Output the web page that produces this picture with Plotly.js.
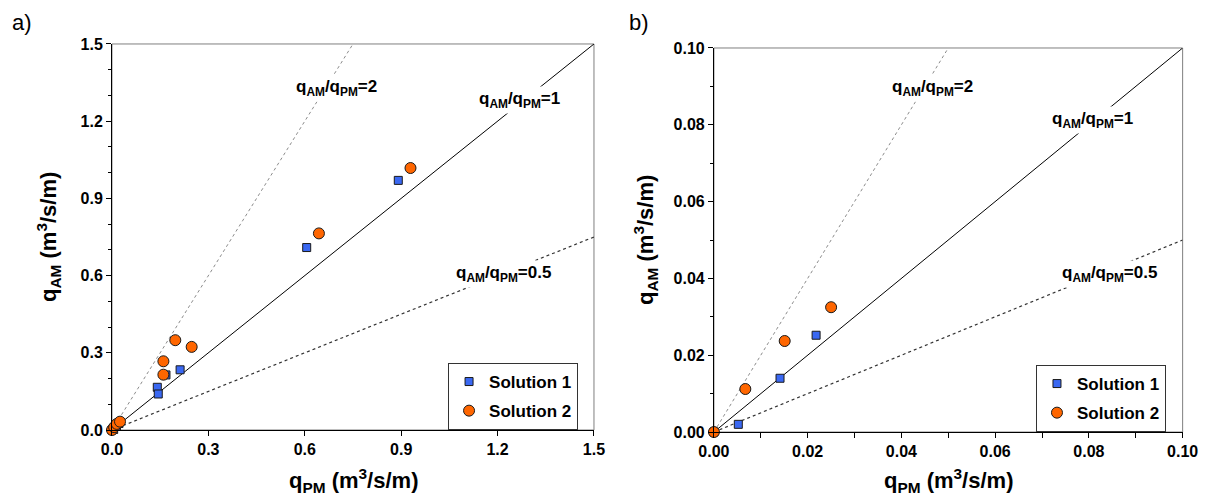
<!DOCTYPE html>
<html>
<head>
<meta charset="utf-8">
<script src="https://cdn.plot.ly/plotly-3.0.1.min.js"></script>
<style>html,body{margin:0;padding:0;background:#fff;}#chart{width:1208px;height:502px;}</style>
</head>
<body>
<div id="chart"></div>
<script>
// ---- data ----
const seriesNames = ['Solution 1', 'Solution 2'];
const sol1X = [0, 0.0052, 0.0141, 0.0218, 0.141, 0.144, 0.168, 0.212, 0.606, 0.891];
const sol1Y = [0, 0.0020, 0.0140, 0.0252, 0.166, 0.140, 0.214, 0.234, 0.709, 0.970];
const sol2X = [0, 0.0067, 0.0151, 0.0250, 0.160, 0.160, 0.197, 0.248, 0.644, 0.929];
const sol2Y = [0, 0.0112, 0.0237, 0.0325, 0.215, 0.267, 0.349, 0.323, 0.764, 1.018];
const ratios = [2, 1, 0.5];
const ratioLabels = ['q<sub>AM</sub>/q<sub>PM</sub>=2', 'q<sub>AM</sub>/q<sub>PM</sub>=1', 'q<sub>AM</sub>/q<sub>PM</sub>=0.5'];
const xTitle = 'q<sub>PM</sub> (m<sup>3</sup>/s/m)';
const yTitle = 'q<sub>AM</sub> (m<sup>3</sup>/s/m)';
const panelLabels = ['a)', 'b)'];
const rangeA = [0, 1.5];
const rangeB = [0, 0.1];

const FONT = 'Arial, "Liberation Sans", sans-serif';
const ratioStyles = [
  {color: '#8c8c8c', width: 1, dash: 'dot'},
  {color: '#000000', width: 1, dash: 'solid'},
  {color: '#333333', width: 1.2, dash: 'dot'}
];

function ratioLine(r, maxV, xa, ya) {
  const xEnd = Math.min(maxV, maxV / r);
  return {x: [0, xEnd], y: [0, xEnd * r], xaxis: xa, yaxis: ya, mode: 'lines',
    line: ratioStyles[ratios.indexOf(r)], showlegend: false, hoverinfo: 'skip', cliponaxis: true};
}

function filt(xs, ys, maxV) {
  const ox = [], oy = [];
  xs.forEach((v, i) => { if (v <= maxV && ys[i] <= maxV) { ox.push(v); oy.push(ys[i]); } });
  return [ox, oy];
}

const mk1 = {symbol: 'square', size: 8, color: '#3a68f2', line: {color: '#1a1a1a', width: 1}};
const mk2 = {symbol: 'circle', size: 11, color: '#ff6600', line: {color: '#1a1a1a', width: 1}};

const traces = [];
ratios.forEach(r => traces.push(ratioLine(r, rangeA[1], 'x', 'y')));
ratios.forEach(r => traces.push(ratioLine(r, rangeB[1], 'x2', 'y2')));

traces.push({x: sol1X, y: sol1Y, xaxis: 'x', yaxis: 'y', mode: 'markers', name: seriesNames[0],
  marker: mk1, cliponaxis: false, legend: 'legend', legendgroup: 'a1'});
traces.push({x: sol2X, y: sol2Y, xaxis: 'x', yaxis: 'y', mode: 'markers', name: seriesNames[1],
  marker: mk2, cliponaxis: false, legend: 'legend', legendgroup: 'a2'});
const b1 = filt(sol1X, sol1Y, rangeB[1]);
const b2 = filt(sol2X, sol2Y, rangeB[1]);
traces.push({x: b1[0], y: b1[1], xaxis: 'x2', yaxis: 'y2', mode: 'markers', name: seriesNames[0],
  marker: mk1, cliponaxis: false, legend: 'legend2', legendgroup: 'b1'});
traces.push({x: b2[0], y: b2[1], xaxis: 'x2', yaxis: 'y2', mode: 'markers', name: seriesNames[1],
  marker: mk2, cliponaxis: false, legend: 'legend2', legendgroup: 'b2'});

const tickFont = {family: FONT, size: 16, color: '#000', weight: 'bold'};
const titleFont = {family: FONT, size: 22, color: '#000', weight: 'bold'};
function axis(extra) {
  return Object.assign({
    showline: true, linecolor: '#000', linewidth: 1, ticks: 'outside', ticklen: 5, tickwidth: 1,
    tickcolor: '#000', showgrid: false, zeroline: false, tickfont: tickFont, fixedrange: true
  }, extra);
}

const annPosA = [[0.70, 1.329], [1.267, 1.283], [1.219, 0.606]];
const annPosB = [[0.0467, 0.0896], [0.0808, 0.0813], [0.0844, 0.0411]];
const annotations = [];
ratioLabels.forEach((t, i) => {
  annotations.push({text: '<b>' + t + '</b>', x: annPosA[i][0], y: annPosA[i][1], xref: 'x', yref: 'y',
    showarrow: false, bgcolor: '#fff', font: {family: FONT, size: 17, color: '#000'}, borderpad: 2});
  annotations.push({text: '<b>' + t + '</b>', x: annPosB[i][0], y: annPosB[i][1], xref: 'x2', yref: 'y2',
    showarrow: false, bgcolor: '#fff', font: {family: FONT, size: 17, color: '#000'}, borderpad: 2});
});
annotations.push({text: panelLabels[0], x: 0.008, y: 0.985, xref: 'paper', yref: 'paper', xanchor: 'left', yanchor: 'top',
  showarrow: false, font: {family: FONT, size: 22, color: '#000'}});
annotations.push({text: panelLabels[1], x: 0.519, y: 0.985, xref: 'paper', yref: 'paper', xanchor: 'left', yanchor: 'top',
  showarrow: false, font: {family: FONT, size: 22, color: '#000'}});
// axis titles
[[353 / 1208, 'x'], [948 / 1208, 'x2']].forEach(p => annotations.push({
  text: '<b>' + xTitle + '</b>', x: p[0], y: 1 - 480 / 502, xref: 'paper', yref: 'paper',
  xanchor: 'center', yanchor: 'middle', showarrow: false, font: titleFont}));
[[48 / 1208, 237], [645 / 1208, 240]].forEach(p => annotations.push({
  text: '<b>' + yTitle + '</b>', x: p[0], y: 1 - p[1] / 502, xref: 'paper', yref: 'paper', textangle: -90,
  xanchor: 'center', yanchor: 'middle', showarrow: false, font: titleFont}));

const frame = (xr, yr) => ({type: 'rect', xref: xr + ' domain', yref: yr + ' domain', x0: 0, x1: 1, y0: 0, y1: 1,
  line: {color: '#7f7f7f', width: 1}, layer: 'below'});

const legendBase = {bgcolor: '#fff', bordercolor: '#333', borderwidth: 1, xanchor: 'left', yanchor: 'top',
  font: {family: FONT, size: 17, color: '#000', weight: 'bold'}, tracegroupgap: 4, itemwidth: 30};

const layout = {
  width: 1208, height: 502, margin: {l: 0, r: 0, t: 0, b: 0},
  paper_bgcolor: '#fff', plot_bgcolor: '#fff',
  xaxis: axis({domain: [0.0927, 0.4917], range: rangeA, tick0: 0, dtick: 0.3, tickformat: '.1f', anchor: 'y'}),
  yaxis: axis({domain: [0.1434, 0.9124], range: rangeA, tick0: 0, dtick: 0.3, tickformat: '.1f', anchor: 'x',
    minor: {dtick: 0.1, ticks: 'outside', ticklen: 3, tickcolor: '#000'}}),
  xaxis2: axis({domain: [0.591, 0.979], range: rangeB, tick0: 0, dtick: 0.02, tickformat: '.2f', anchor: 'y2',
    minor: {dtick: 0.01, ticks: 'outside', ticklen: 5, tickcolor: '#000'}}),
  yaxis2: axis({domain: [0.1394, 0.9044], range: rangeB, tick0: 0, dtick: 0.02, tickformat: '.2f', anchor: 'x2',
    minor: {dtick: 0.01, ticks: 'outside', ticklen: 3, tickcolor: '#000'}}),
  legend: Object.assign({x: 0.3709, y: 0.2769}, legendBase),
  legend2: Object.assign({x: 0.8576, y: 0.2729}, legendBase),
  shapes: [frame('x', 'y'), frame('x2', 'y2')],
  annotations: annotations,
  showlegend: true
};

Plotly.newPlot('chart', traces, layout, {displayModeBar: false, staticPlot: true});
</script>
</body>
</html>
